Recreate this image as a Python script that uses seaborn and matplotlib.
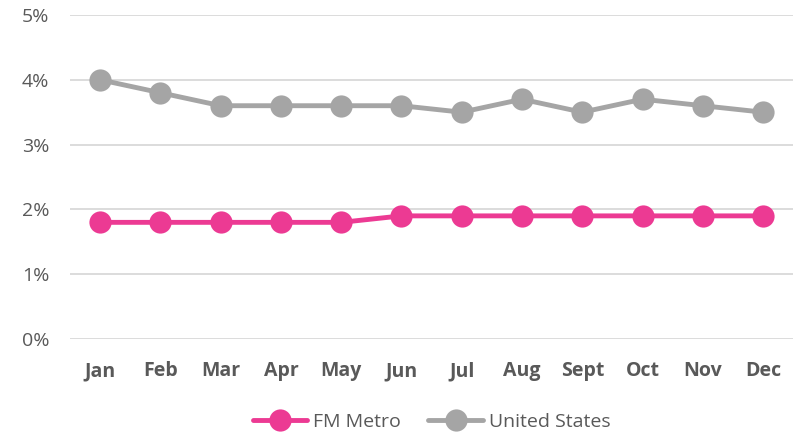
import pandas as pd
import seaborn as sns
import matplotlib.pyplot as plt
from matplotlib.ticker import FuncFormatter

# Data (unemployment rate, %)
months = ['Jan', 'Feb', 'Mar', 'Apr', 'May', 'Jun', 'Jul', 'Aug', 'Sept', 'Oct', 'Nov', 'Dec']
fm_metro = [1.8, 1.8, 1.8, 1.8, 1.8, 1.9, 1.9, 1.9, 1.9, 1.9, 1.9, 1.9]
united_states = [4.0, 3.8, 3.6, 3.6, 3.6, 3.6, 3.5, 3.7, 3.5, 3.7, 3.6, 3.5]
series_names = ['FM Metro', 'United States']
colors = ['#EC3A93', '#A5A5A5']

df = pd.DataFrame({'month': months * 2,
                   'rate': fm_metro + united_states,
                   'series': [series_names[0]] * 12 + [series_names[1]] * 12})

sns.set_style('white')
plt.rcParams['font.family'] = ['Open Sans', 'DejaVu Sans']

fig = plt.figure(figsize=(8, 4.36), dpi=100)
ax = fig.add_axes([0.0875, 0.2225, 0.904, 0.7431])

sns.lineplot(data=df, x='month', y='rate', hue='series', palette=colors,
             marker='o', markersize=16, markeredgewidth=0, linewidth=3.5,
             sort=False, ax=ax, zorder=3)

ax.set_xlim(-0.5, 11.5)
ax.set_ylim(0, 5)
ax.set_yticks([0, 1, 2, 3, 4, 5])
ax.yaxis.set_major_formatter(FuncFormatter(lambda v, p: f'{int(v)}%'))
ax.grid(axis='y', color='#D9D9D9', linewidth=1.3, zorder=0)
ax.grid(axis='x', visible=False)
for s in ax.spines.values():
    s.set_visible(False)
ax.tick_params(axis='both', length=0)
ax.tick_params(axis='y', labelsize=14, labelcolor='#595959', pad=15)
ax.tick_params(axis='x', labelsize=14, labelcolor='#595959', pad=16)
for t in ax.get_xticklabels():
    t.set_fontweight('bold')
ax.set_xlabel('')
ax.set_ylabel('')

handles, labels = ax.get_legend_handles_labels()
ax.legend(handles, labels, loc='center', bbox_to_anchor=(0.5, -0.256), ncol=2,
          frameon=False, fontsize=14, labelcolor='#595959', handlelength=2.8,
          handletextpad=0.3, columnspacing=1.4)

fig.savefig('out.png', dpi=100)
